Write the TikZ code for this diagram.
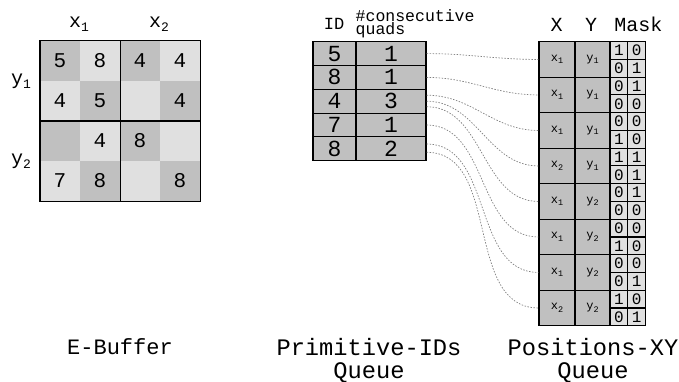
\documentclass[tikz,border=0pt]{standalone}
\usepackage{fontspec}
\setmainfont{Liberation Mono}
\usetikzlibrary{calc}
\definecolor{dk}{HTML}{C0C0C0}
\definecolor{lt}{HTML}{E0E0E0}
\newcommand\fs[1]{\fontsize{#1}{#1}\selectfont}
\tikzset{
  ecell/.style={minimum width=40pt,minimum height=40pt,inner sep=0pt,draw=none,font=\fs{21}},
  qcell/.style={minimum height=23.8pt,inner sep=0pt,draw=black,line width=1.1pt,fill=dk,font=\fs{23}},
  pcell/.style={minimum height=35.5pt,inner sep=0pt,draw=black,line width=1.1pt,fill=dk,font=\fs{12}},
  mcell/.style={minimum height=17.75pt,inner sep=0pt,draw=black,line width=1.1pt,fill=lt,font=\fs{16}},
  hdr/.style={inner sep=0pt,anchor=base},
  conn/.style={draw=gray,line width=0.7pt,dash pattern=on 1.5pt off 1.5pt},
}
\begin{document}
\begin{tikzpicture}[x=1pt,y=-1pt]
\useasboundingbox (0,0) rectangle (679,382);
% ---------- E-Buffer ----------
\foreach \r/\c/\t in {0/0/5,0/1/8,0/2/4,0/3/4,
                      1/0/4,1/1/5,1/2/,1/3/4,
                      2/0/,2/1/4,2/2/8,2/3/,
                      3/0/7,3/1/8,3/2/,3/3/8}{
  \pgfmathtruncatemacro\pp{mod(\r+\c,2)}
  \ifnum\pp=0 \def\cc{dk}\else\def\cc{lt}\fi
  \node[ecell,fill=\cc] (e\r\c) at ({60+40*\c},{61+40*\r}) {\t};
}
\draw[line width=1.4pt] (e00.north west) rectangle (e33.south east);
\draw[line width=1.4pt] (e01.north east) -- (e31.south east);
\draw[line width=1.4pt] (e10.south west) -- (e13.south east);
\node[hdr] (lx1) at (79,28) {\fs{20}x\raisebox{-4pt}{\fs{13}1}};
\node[hdr] (lx2) at (159,28) {\fs{20}x\raisebox{-4pt}{\fs{13}2}};
\node[hdr] (ly1) at (21,84.5) {\fs{20}y\raisebox{-4pt}{\fs{13}1}};
\node[hdr] (ly2) at (21,164.5) {\fs{20}y\raisebox{-4pt}{\fs{13}2}};
\node[hdr] (leb) at (120,354) {\fs{22}E-Buffer};
% ---------- Primitive-IDs queue ----------
\foreach \i/\id/\n in {1/5/1,2/8/1,3/4/3,4/7/1,5/8/2}{
  \node[qcell,minimum width=43pt] (q\i) at (334.5,{53.6+23.8*(\i-1)}) {\id};
  \node[qcell,minimum width=70pt] (n\i) at (391,{53.6+23.8*(\i-1)}) {\n};
}
\node[hdr] (hid) at (334,30) {\fs{17}ID};
\node[inner sep=0pt,anchor=base west] (hc1) at (355.5,22) {\fs{16.5}\#consecutive};
\node[inner sep=0pt,anchor=base west] (hc2) at (355.5,35) {\fs{16.5}quads};
\node[hdr] (lpq1) at (369,355) {\fs{23.7}Primitive-IDs};
\node[hdr] (lpq2) at (369,378.3) {\fs{23.7}Queue};
% ---------- Positions-XY queue ----------
\foreach \j/\xs/\ys/\a/\b/\c/\d in {1/1/1/1/0/0/1,2/1/1/0/1/0/0,3/1/1/0/0/1/0,4/2/1/1/1/0/1,
                                     5/1/2/0/1/0/0,6/1/2/0/0/1/0,7/1/2/0/0/0/1,8/2/2/1/0/0/1}{
  \node[pcell,minimum width=36pt] (p\j) at (557,{59.45+35.5*(\j-1)}) {x\raisebox{-2.5pt}{\fs{8.5}\xs}};
  \node[pcell,minimum width=35pt] (py\j) at (592.5,{59.45+35.5*(\j-1)}) {y\raisebox{-2.5pt}{\fs{8.5}\ys}};
  \node[mcell,minimum width=17.7pt] (ma\j) at (618.85,{50.575+35.5*(\j-1)}) {\a};
  \node[mcell,minimum width=18pt] (mb\j) at (636.7,{50.575+35.5*(\j-1)}) {\b};
  \node[mcell,minimum width=17.7pt] (mc\j) at (618.85,{68.325+35.5*(\j-1)}) {\c};
  \node[mcell,minimum width=18pt] (md\j) at (636.7,{68.325+35.5*(\j-1)}) {\d};
}
\node[hdr] (hx) at (556.7,31.5) {\fs{20}X};
\node[hdr] (hy) at (591,31.5) {\fs{20}Y};
\node[hdr] (hm) at (638.3,31.5) {\fs{20}Mask};
\node[hdr] (lpx1) at (593,355) {\fs{23.7}Positions-XY};
\node[hdr] (lpx2) at (593,378.3) {\fs{23.7}Queue};
% ---------- connectors ----------
\draw[conn] (n1.east) to[out=0,in=180] (p1.west);
\draw[conn] (n2.east) to[out=0,in=180] (p2.west);
\draw[conn] ($(n3.east)+(0,-6)$) to[out=0,in=180] (p3.west);
\draw[conn] (n3.east) to[out=0,in=180] (p4.west);
\draw[conn] ($(n3.east)+(0,5.5)$) to[out=0,in=180] (p5.west);
\draw[conn] (n4.east) to[out=0,in=180] (p6.west);
\draw[conn] ($(n5.east)+(0,-4.8)$) to[out=0,in=180] (p7.west);
\draw[conn] ($(n5.east)+(0,3.5)$) to[out=0,in=180] (p8.west);
\end{tikzpicture}
\end{document}
